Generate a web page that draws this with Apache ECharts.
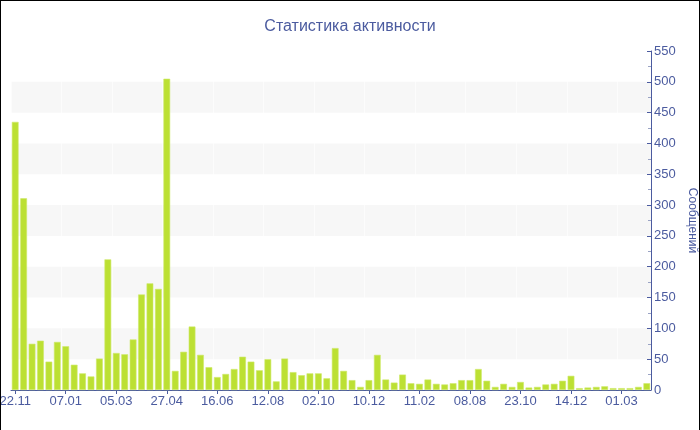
<!DOCTYPE html>
<html>
<head>
<meta charset="utf-8">
<script src="https://cdn.jsdelivr.net/npm/echarts@6/dist/echarts.min.js"></script>
<style>
html,body{margin:0;padding:0;background:#fff;overflow:hidden;}
#chart{width:698px;height:429px;border:1px solid #000;border-bottom:none;}
</style>
</head>
<body>
<div id="chart"></div>
<script>
var titleText = 'Статистика активности';
var yName = 'Сообщений';
var categories = [
  '22.11','29.11','06.12','13.12','20.12','27.12',
  '07.01','14.01','21.01','28.01','04.02','18.02',
  '05.03','12.03','19.03','26.03','02.04','16.04',
  '27.04','04.05','11.05','18.05','25.05','01.06',
  '16.06','23.06','30.06','07.07','14.07','28.07',
  '12.08','19.08','26.08','02.09','09.09','16.09',
  '02.10','09.10','16.10','30.10','06.11','20.11',
  '10.12','19.12','26.12','09.01','16.01','30.01',
  '11.02','25.02','11.03','08.04','20.05','01.07',
  '08.08','22.08','05.09','19.09','03.10','10.10',
  '23.10','31.10','07.11','14.11','21.11','05.12',
  '14.12','28.12','04.01','18.01','01.02','15.02',
  '01.03','08.03','15.03','22.03'
];
var messages = [
  435,311,75,80,46,78,
  71,41,27,22,51,212,
  60,58,82,155,173,164,
  505,31,62,103,57,37,
  21,26,34,54,46,32,
  50,14,51,29,24,27,
  27,19,68,31,16,5,
  16,57,17,12,25,11,
  10,17,10,9,11,16,
  16,34,15,5,10,5,
  13,4,5,9,10,15,
  23,3,4,5,6,3,
  3,3,5,11
];
var yMin = 0, yMax = 550, yStep = 50;

var textColor = '#4b5b9f';
var font = 'Liberation Sans';
var chart = echarts.init(document.getElementById('chart'), null, {renderer:'canvas'});
chart.setOption({
  animation: false,
  backgroundColor: '#fff',
  title: {
    text: titleText,
    left: 'center',
    top: 13,
    textStyle: {color: textColor, fontSize: 16, fontWeight: 'normal', fontFamily: font}
  },
  grid: {left: 10, right: 48, top: 50, bottom: 40, containLabel: false, outerBoundsMode: 'none'},
  xAxis: {
    type: 'category',
    data: categories,
    boundaryGap: true,
    axisLine: {show: true, lineStyle: {color: textColor, width: 1}},
    axisTick: {show: true, interval: 5, alignWithLabel: true, length: 4, lineStyle: {color: textColor}},
    axisLabel: {interval: 5, color: textColor, fontSize: 13, fontFamily: font, margin: 5, hideOverlap: false},
    splitLine: {show: true, interval: 5, lineStyle: {color: 'rgba(255,255,255,0.6)', width: 1}}
  },
  yAxis: {
    type: 'value',
    position: 'right',
    min: yMin, max: yMax, interval: yStep,
    name: yName,
    nameLocation: 'middle',
    nameRotate: -90,
    nameGap: 32,
    nameTextStyle: {color: textColor, fontSize: 12, fontFamily: font},
    axisLine: {show: true, lineStyle: {color: textColor, width: 1}},
    axisTick: {show: true, inside: true, length: 4, lineStyle: {color: textColor}},
    minorTick: {show: true, splitNumber: 2, length: 3, lineStyle: {color: '#9aa3c4'}},
    axisLabel: {color: textColor, fontSize: 13, fontFamily: font, margin: 3},
    splitLine: {show: false},
    splitArea: {show: true, areaStyle: {color: ['rgba(255,255,255,0)', '#f7f7f7']}}
  },
  series: [{
    type: 'bar',
    data: messages,
    barCategoryGap: '20%',
    itemStyle: {color: '#bce033', borderColor: '#cfea6a', borderWidth: 0.6}
  }]
});
</script>
</body>
</html>
